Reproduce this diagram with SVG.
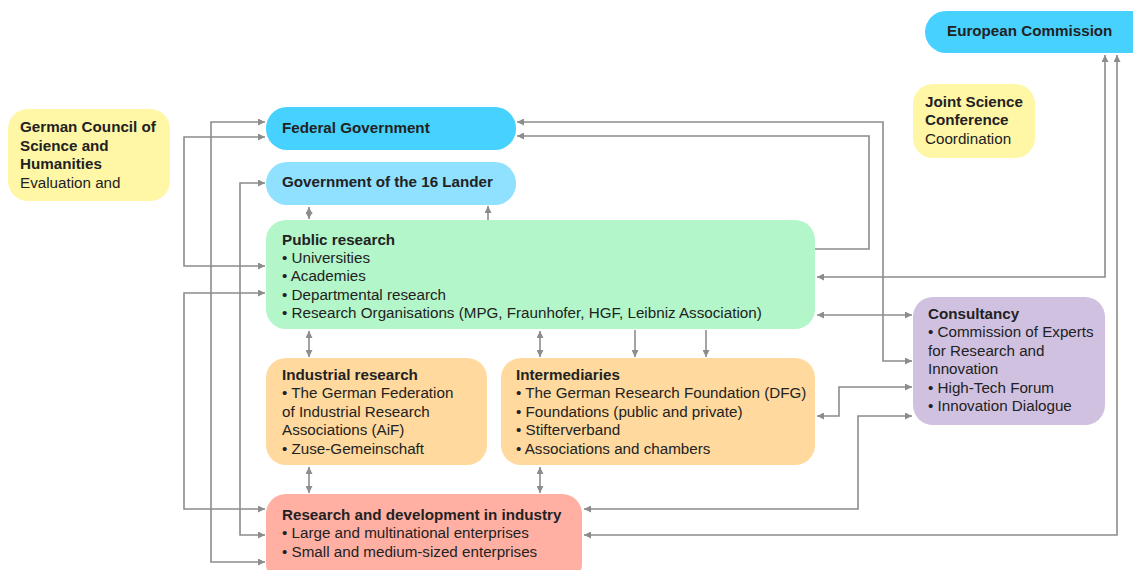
<svg xmlns="http://www.w3.org/2000/svg" width="1133" height="570" viewBox="0 0 1133 570">
<style>
text{font-family:"Liberation Sans",Arial,sans-serif;font-size:15.2px;fill:#222}
.b{font-weight:bold}
.c{fill:none;stroke:#8c8c8c;stroke-width:1.6}
</style>
<defs>
<marker id="a" viewBox="0 0 10 10" refX="10" refY="5" markerWidth="8" markerHeight="7" markerUnits="userSpaceOnUse" orient="auto-start-reverse"><path d="M0,0L10,5L0,10z" fill="#8c8c8c"/></marker>
</defs>
<rect width="1133" height="570" fill="#fff"/>
<g id="connectors">
<path class="c" d="M265,122H211V562H265" marker-start="url(#a)" marker-end="url(#a)"/>
<path class="c" d="M265,137H184V266H265" marker-start="url(#a)" marker-end="url(#a)"/>
<path class="c" d="M265,183H240V535H265" marker-start="url(#a)" marker-end="url(#a)"/>
<path class="c" d="M265,293H184V509H265" marker-start="url(#a)" marker-end="url(#a)"/>
<path class="c" d="M309,207V219" marker-start="url(#a)" marker-end="url(#a)"/>
<path class="c" d="M488,220V206" marker-end="url(#a)"/>
<path class="c" d="M309,331V357" marker-start="url(#a)" marker-end="url(#a)"/>
<path class="c" d="M540,331V357" marker-start="url(#a)" marker-end="url(#a)"/>
<path class="c" d="M635,330V357" marker-end="url(#a)"/>
<path class="c" d="M706,330V357" marker-end="url(#a)"/>
<path class="c" d="M309,467V493" marker-start="url(#a)" marker-end="url(#a)"/>
<path class="c" d="M540,467V493" marker-start="url(#a)" marker-end="url(#a)"/>
<path class="c" d="M517,122H883V361H912" marker-start="url(#a)" marker-end="url(#a)"/>
<path class="c" d="M815,249H869V136H517" marker-end="url(#a)"/>
<path class="c" d="M817,277H1105V55" marker-start="url(#a)" marker-end="url(#a)"/>
<path class="c" d="M584,535H1117V55" marker-start="url(#a)" marker-end="url(#a)"/>
<path class="c" d="M817,315H912" marker-start="url(#a)" marker-end="url(#a)"/>
<path class="c" d="M817,416H839V387H912" marker-start="url(#a)" marker-end="url(#a)"/>
<path class="c" d="M584,509H858V416H912" marker-start="url(#a)" marker-end="url(#a)"/>
</g>
<g id="eu"><rect x="925" y="11" width="230" height="42" rx="21" fill="#47d1ff"/><text class="b" x="947" y="36">European Commission</text></g>
<g id="jsc"><rect x="913" y="84" width="122" height="74" rx="20" fill="#fff7a6"/><text class="b" x="925" y="107">Joint Science</text><text class="b" x="925" y="125">Conference</text><text x="925" y="144">Coordination</text></g>
<g id="council"><rect x="8" y="109" width="162" height="92" rx="20" fill="#fff7a6"/><text class="b" x="20" y="132">German Council of</text><text class="b" x="20" y="151">Science and</text><text class="b" x="20" y="169">Humanities</text><text x="20" y="188">Evaluation and</text></g>
<g id="fed"><rect x="266" y="107" width="250" height="43" rx="21" fill="#47d1ff"/><text class="b" x="282" y="133">Federal Government</text></g>
<g id="lander"><rect x="266" y="162" width="250" height="43" rx="21" fill="#8fe1ff"/><text class="b" x="282" y="187">Government of the 16 Lander</text></g>
<g id="public"><rect x="266" y="220" width="549" height="109" rx="20" fill="#b3f6c9"/><text class="b" x="282" y="245">Public research</text><text x="282" y="263">• Universities</text><text x="282" y="281">• Academies</text><text x="282" y="300">• Departmental research</text><text x="282" y="318">• Research Organisations (MPG, Fraunhofer, HGF, Leibniz Association)</text></g>
<g id="industrial"><rect x="266" y="358" width="221" height="107" rx="20" fill="#ffd99e"/><text class="b" x="282" y="380">Industrial research</text><text x="282" y="398">• The German Federation</text><text x="282" y="417">of Industrial Research</text><text x="282" y="435">Associations (AiF)</text><text x="282" y="454">• Zuse-Gemeinschaft</text></g>
<g id="intermediaries"><rect x="501" y="358" width="314" height="107" rx="20" fill="#ffd99e"/><text class="b" x="516" y="380">Intermediaries</text><text x="516" y="398">• The German Research Foundation (DFG)</text><text x="516" y="417">• Foundations (public and private)</text><text x="516" y="435">• Stifterverband</text><text x="516" y="454">• Associations and chambers</text></g>
<g id="consultancy"><rect x="913" y="297" width="192" height="128" rx="20" fill="#d0c1e0"/><text class="b" x="928" y="319">Consultancy</text><text x="928" y="337">• Commission of Experts</text><text x="928" y="356">for Research and</text><text x="928" y="374">Innovation</text><text x="928" y="393">• High-Tech Forum</text><text x="928" y="411">• Innovation Dialogue</text></g>
<g id="rnd"><rect x="266" y="494" width="316" height="90" rx="20" fill="#ffb0a3"/><text class="b" x="282" y="520">Research and development in industry</text><text x="282" y="538">• Large and multinational enterprises</text><text x="282" y="557">• Small and medium-sized enterprises</text></g>
</svg>
